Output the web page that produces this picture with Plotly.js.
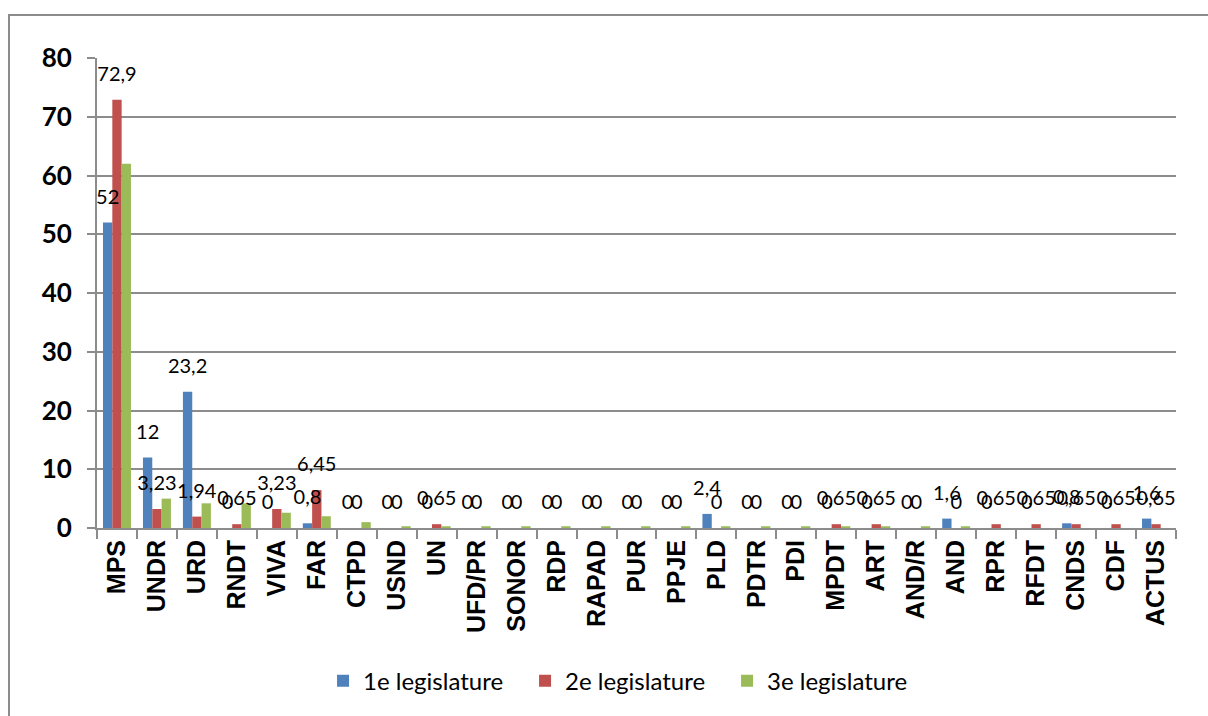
<!DOCTYPE html>
<html>
<head>
<meta charset="utf-8">
<script src="https://cdn.plot.ly/plotly-3.0.1.min.js"></script>
<style>
  html, body { margin: 0; padding: 0; background: #fff; overflow: hidden; }
  #frame { position: absolute; left: 8px; top: 14px; width: 1210px; height: 710px; border: 2px solid #8c8c8c; box-sizing: border-box; }
  #chart { position: absolute; left: 0; top: 0; width: 1208px; height: 716px; }
</style>
</head>
<body>
<div id="frame"></div>
<div id="chart"></div>
<script>
const categories = ["MPS","UNDR","URD","RNDT","VIVA","FAR","CTPD","USND","UN","UFD/PR","SONOR","RDP","RAPAD","PUR","PPJE","PLD","PDTR","PDI","MPDT","ART","AND/R","AND","RPR","RFDT","CNDS","CDF","ACTUS"];
const leg1 = [52,12,23.2,0,0,0.8,0,0,0,0,0,0,0,0,0,2.4,0,0,0,0,0,1.6,0,0,0.8,0,1.6];
const leg2 = [72.9,3.23,1.94,0.65,3.23,6.45,0,0,0.65,0,0,0,0,0,0,0,0,0,0.65,0.65,0,0,0.65,0.65,0.65,0.65,0.65];
const leg3 = [62,5,4.2,4.2,2.6,2,1,0.3,0.3,0.3,0.3,0.3,0.3,0.3,0.3,0.3,0.3,0.3,0.3,0.3,0.3,0.3,0,0,0,0,0];
const seriesNames = ["1e legislature","2e legislature","3e legislature"];
const colors = ["#4F81BD","#C0504D","#9BBB59"];

const fmt = v => String(v).replace('.', ',');
const lblFont = {family: "Lato, 'Open Sans', sans-serif", size: 20, color: "#000"};

function mk(vals, i, labels) {
  return {
    type: 'bar', x: categories, y: vals, name: seriesNames[i],
    marker: {color: colors[i], line: {width: 0}},
    text: labels ? vals.map(fmt) : undefined,
    textposition: labels ? 'outside' : 'none',
    textfont: lblFont, constraintext: 'none', cliponaxis: false,
    hoverinfo: 'x+y'
  };
}
const data = [mk(leg1,0,true), mk(leg2,1,true), mk(leg3,2,false)];

const layout = {
  width: 1208, height: 716,
  margin: {l: 97, r: 32, t: 58, b: 185},
  paper_bgcolor: 'rgba(0,0,0,0)', plot_bgcolor: 'rgba(0,0,0,0)',
  barmode: 'group', bargap: 0.3, bargroupgap: 0,
  showlegend: true,
  legend: {orientation: 'h', x: 0.2095, xanchor: 'left', y: -0.326, yanchor: 'middle',
           font: {family: "Lato, 'Open Sans', sans-serif", size: 24, color: '#000'},
           itemwidth: 30, entrywidth: 157, traceorder: 'normal'},
  xaxis: {
    type: 'category', tickangle: -90, tickson: 'boundaries', ticks: 'outside', ticklen: 9,
    tickcolor: '#8c8c8c', tickwidth: 2,
    showline: true, linecolor: '#8c8c8c', linewidth: 2,
    tickfont: {family: "'Liberation Sans', Arial, sans-serif", size: 25, color: '#000', weight: 'bold'},
    showgrid: false
  },
  yaxis: {
    range: [0, 80], dtick: 10, tick0: 0,
    showgrid: true, gridcolor: '#8c8c8c', gridwidth: 2,
    showline: true, linecolor: '#8c8c8c', linewidth: 2,
    ticks: 'outside', ticklen: 8, tickcolor: '#8c8c8c', tickwidth: 2, ticklabelstandoff: 10,
    tickfont: {family: "Lato, 'Open Sans', sans-serif", size: 26, color: '#000', weight: 'bold'},
    zeroline: false
  },
  font: {family: "Lato, sans-serif"}
};

Plotly.newPlot('chart', data, layout, {displayModeBar: false, staticPlot: true}).then(gd => {
  // lift value labels slightly and draw them above all bars, as in the original 3-D chart
  const layer = gd.querySelector('.barlayer');
  const top = document.createElementNS('http://www.w3.org/2000/svg', 'g');
  top.setAttribute('class', 'labels-on-top');
  layer.appendChild(top);
  gd.querySelectorAll('.barlayer text.bartext').forEach(t => {
    const tr = t.getAttribute('transform') || '';
    t.setAttribute('transform', 'translate(0,-12) ' + tr);
    top.appendChild(t);
  });
});
</script>
</body>
</html>
